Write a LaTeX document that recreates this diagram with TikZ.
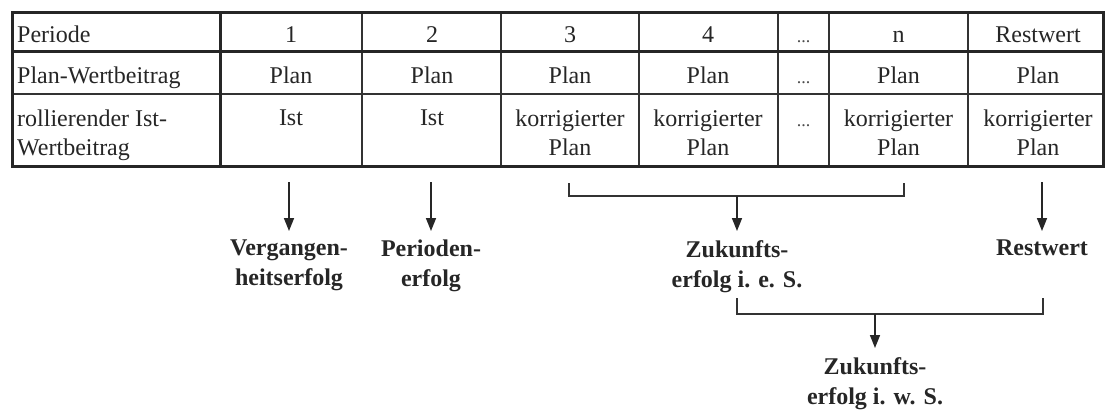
\documentclass[tikz,border=0pt]{standalone}
\usepackage{fontspec}
\setmainfont{Liberation Serif}
\usetikzlibrary{arrows.meta}
\begin{document}
\begin{tikzpicture}[x=1pt,y=-1pt,
  framelw/.style={line width=3pt,draw=black!85},
  gridlw/.style={line width=1.8pt,draw=black!80},
  txt/.style={inner sep=0pt,font=\fontsize{24}{29}\selectfont,text=black!85},
  dots/.style={inner sep=0pt,font=\fontsize{18}{22}\selectfont,text=black!70},
  lab/.style={inner xsep=0pt,inner ysep=9pt,anchor=north,align=center,
    font=\bfseries\fontsize{24}{30}\selectfont,text=black!85},
  arr/.style={line width=1.6pt,draw=black!85,-{Triangle[length=13pt,width=10pt]}},
  brk/.style={line width=2pt,draw=black!80}]
\useasboundingbox (0,0) rectangle (1108,412);
\fill[white] (0,0) rectangle (1108,412);

% grid
\foreach \x in {362,501,639,778,829,968}{\draw[gridlw] (\x,13) -- (\x,166);}
\draw[gridlw] (12,94) -- (1103,94);
\draw[framelw] (12,52) -- (1103,52);
\draw[framelw] (220,13) -- (220,166);
\draw[framelw] (12,13) rectangle (1103,166);

% row 1
\node[txt,anchor=base west] (h0) at (17,43) {Periode};
\node[txt,anchor=base] (h1) at (291,43) {1};
\node[txt,anchor=base] (h2) at (432,43) {2};
\node[txt,anchor=base] (h3) at (570,43) {3};
\node[txt,anchor=base] (h4) at (708,43) {4};
\node[dots,anchor=base] (h5) at (803.5,43) {...};
\node[txt,anchor=base] (h6) at (898.5,43) {n};
\node[txt,anchor=base] (h7) at (1038,43) {Restwert};

% row 2
\node[txt,anchor=base west] (p0) at (17,83) {Plan-Wertbeitrag};
\node[txt,anchor=base] (p1) at (291,83) {Plan};
\node[txt,anchor=base] (p2) at (432,83) {Plan};
\node[txt,anchor=base] (p3) at (570,83) {Plan};
\node[txt,anchor=base] (p4) at (708,83) {Plan};
\node[dots,anchor=base] (p5) at (803.5,83) {...};
\node[txt,anchor=base] (p6) at (898.5,83) {Plan};
\node[txt,anchor=base] (p7) at (1038,83) {Plan};

% row 3
\node[txt,anchor=north west,align=left] (i0) at (17,110) {rollierender Ist-\\Wertbeitrag};
\node[txt,anchor=north] (i1) at (291,110) {Ist};
\node[txt,anchor=north] (i2) at (432,110) {Ist};
\node[txt,anchor=north,align=center] (i3) at (570,110) {korrigierter\\Plan};
\node[txt,anchor=north,align=center] (i4) at (708,110) {korrigierter\\Plan};
\node[dots,anchor=base] (i5) at (803.5,126) {...};
\node[txt,anchor=north,align=center] (i6) at (898.5,110) {korrigierter\\Plan};
\node[txt,anchor=north,align=center] (i7) at (1038,110) {korrigierter\\Plan};

% labels
\node[lab] (l1) at (289,231) {Vergangen-\\heitserfolg};
\node[lab] (l2) at (431,231) {Perioden-\\erfolg};
\node[lab] (lz) at (737,231) {Zukunfts-\\erfolg i. e. S.};
\node[lab] (lr) at (1042,231) {Restwert};
\node[lab] (lw) at (875,348) {Zukunfts-\\erfolg i. w. S.};

% single arrows
\coordinate (s1) at (289,182);
\coordinate (s2) at (431,182);
\coordinate (sr) at (1042,182);
\draw[arr] (s1) -- (l1.north);
\draw[arr] (s2) -- (l2.north);
\draw[arr] (sr) -- (lr.north);

% bracket 1
\coordinate (b1l) at (569,183);
\coordinate (b1r) at (904,183);
\coordinate (b1m) at (737,196);
\draw[brk] (b1l) |- (b1m) -| (b1r);
\draw[arr] (b1m) -- (lz.north);

% bracket 2
\coordinate (b2l) at (737,298);
\coordinate (b2r) at (1043,298);
\coordinate (b2m) at (875,314);
\draw[brk] (b2l) |- (b2m) -| (b2r);
\draw[arr] (b2m) -- (lw.north);
\end{tikzpicture}
\end{document}
